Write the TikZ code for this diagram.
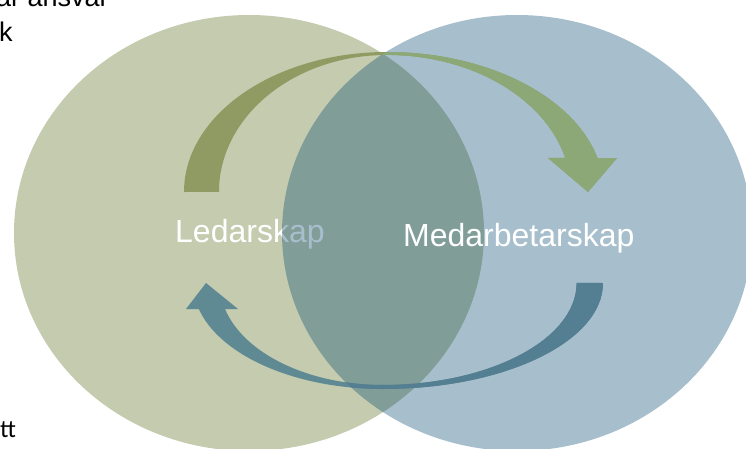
\documentclass[tikz,border=0pt]{standalone}
\usepackage{fontspec}
\setmainfont{Liberation Sans}
\newfontfamily\calfont{Carlito}

\definecolor{ledgreen}{RGB}{196,203,175}
\definecolor{medblue}{RGB}{3,72,110}
\definecolor{olivearrow}{RGB}{143,155,98}
\definecolor{greenarrow}{RGB}{139,168,118}
\definecolor{tealarrow}{RGB}{95,138,147}
\definecolor{bluearrow}{RGB}{84,126,145}

% arrow outlines
\def\toparrow{(184,256) arc[start angle=180, end angle=90, x radius=203, y radius=140]
  arc[start angle=90, end angle=14, x radius=217, y radius=140]
  -- (617,290) -- (588,256) -- (548,290) -- (565.2,290.1)
  arc[start angle=14.4, end angle=90, x radius=184, y radius=137]
  arc[start angle=90, end angle=180, x radius=168, y radius=137] -- cycle}
\def\bottomarrow{(603,165) arc[start angle=0, end angle=-90, x radius=220, y radius=106]
  arc[start angle=270, end angle=194.2, x radius=190, y radius=106]
  -- (186,139) -- (206,165) -- (238,139) -- (225,139)
  arc[start angle=194.8, end angle=270, x radius=163, y radius=102]
  arc[start angle=270, end angle=360, x radius=194, y radius=102] -- cycle}

\begin{document}
\begin{tikzpicture}[x=1pt,y=1pt]
\tikzset{label/.style = {anchor=base west, inner sep=0pt, font=\fontsize{32}{38}\selectfont, text=white}}
\tikzset{edgetext/.style = {anchor=base west, inner sep=0pt, text=black}}
\useasboundingbox (0,0) rectangle (746,448);

% two circles
\fill[ledgreen] (249,215) ellipse [x radius=235, y radius=218];
\node[label] (ledare) at (175,206) {Ledarskap};
\fill[medblue, fill opacity=0.35] (517,215) ellipse [x radius=235, y radius=218];

% arrows
\fill[olivearrow] \toparrow;
\fill[tealarrow] \bottomarrow;
\begin{scope}
\clip (517,215) ellipse [x radius=235, y radius=218];
\fill[greenarrow] \toparrow;
\fill[bluearrow] \bottomarrow;
\end{scope}

\node[label] (medarb) at (403,202) {Medarbetarskap};

% cut text at the edges
\node[edgetext, font=\fontsize{27}{32}\selectfont] (ansvar) at (-4,441) {ar ansvar};
\node[edgetext, font=\fontsize{27}{32}\selectfont] (kord) at (-1,406) {k};
\node[edgetext, font=\calfont\fontsize{25}{30}\selectfont] (ttord) at (0,11) {tt};

\end{tikzpicture}
\end{document}
